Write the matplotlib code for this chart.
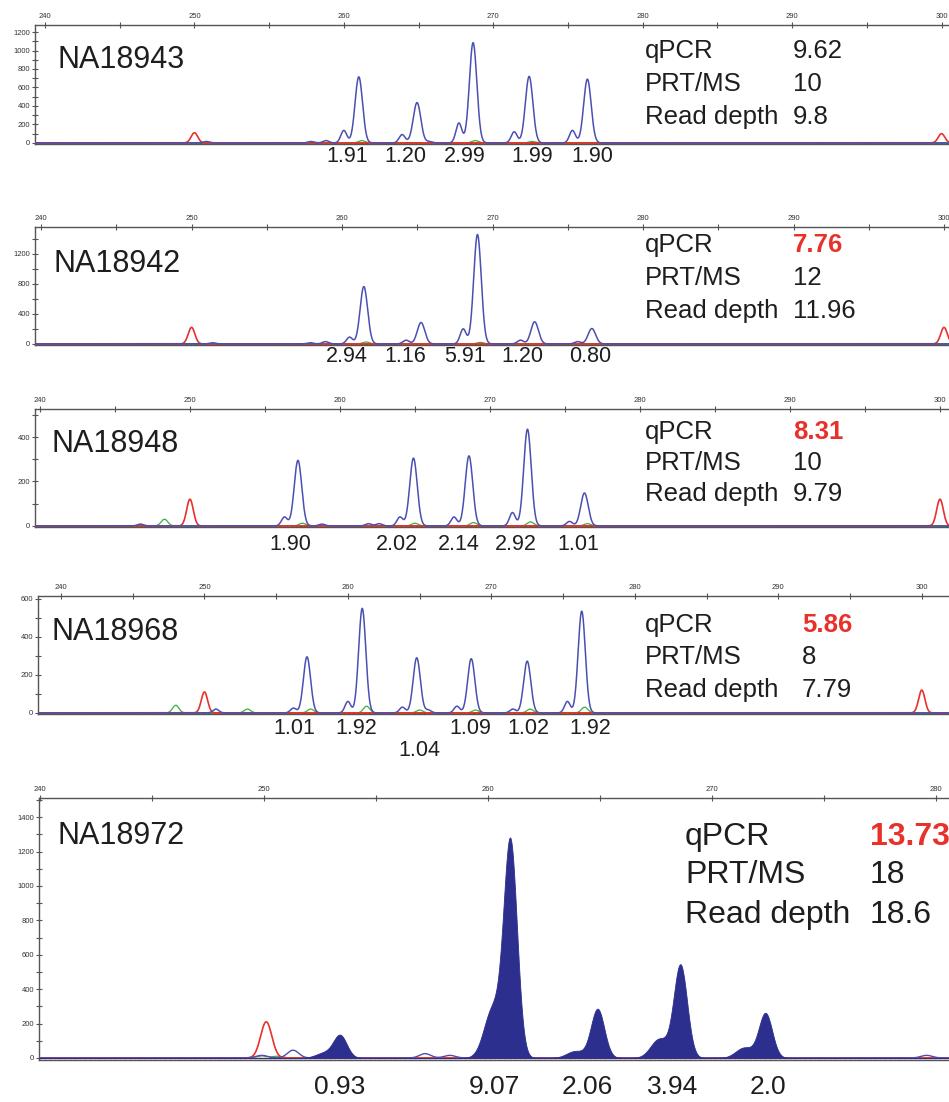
import matplotlib.pyplot as plt
import numpy as np
from matplotlib.ticker import MultipleLocator, FuncFormatter

plt.rcParams["font.family"] = ["Liberation Sans", "DejaVu Sans"]

# ---- data ----
samples = ["NA18943", "NA18942", "NA18948", "NA18968", "NA18972"]
qpcr = ["9.62", "7.76", "8.31", "5.86", "13.73"]
qpcr_flag = [False, True, True, True, True]
prtms = ["10", "12", "10", "8", "18"]
read_depth = ["9.8", "11.96", "9.79", "7.79", "18.6"]

# main (selected) peaks: size in bp, height in RFU, ratio label
pk_pos_1 = [261.0, 264.9, 268.65, 272.4, 276.3]
pk_h_1 = [715, 435, 1085, 720, 690]
pk_lab_1 = ["1.91", "1.20", "2.99", "1.99", "1.90"]
sh_pos_1 = [260.0, 263.9, 267.7, 271.4, 275.3]
sh_h_1 = [135, 90, 215, 120, 135]
minor_pos_1 = [250.8, 257.8, 258.8, 264.5, 265.7]
minor_h_1 = [15, 15, 25, 10, 15]
red_pos_1 = [250.0, 300.0]
red_h_1 = [110, 100]
grn_pos_1 = [261.2, 268.8, 272.6]
grn_h_1 = [25, 25, 15]

pk_pos_2 = [261.45, 265.25, 269.0, 272.8, 276.6]
pk_h_2 = [765, 285, 1460, 295, 205]
pk_lab_2 = ["2.94", "1.16", "5.91", "1.20", "0.80"]
sh_pos_2 = [260.5, 264.3, 268.05, 271.85, 275.65]
sh_h_2 = [90, 30, 200, 50, 30]
minor_pos_2 = [251.4, 257.9, 258.9, 264.2]
minor_h_2 = [15, 15, 30, 20]
red_pos_2 = [250.0, 300.0]
red_h_2 = [220, 220]
grn_pos_2 = [261.6, 269.2]
grn_h_2 = [25, 20]

pk_pos_3 = [257.2, 264.9, 268.6, 272.5, 276.3]
pk_h_3 = [295, 305, 315, 435, 148]
pk_lab_3 = ["1.90", "2.02", "2.14", "2.92", "1.01"]
sh_pos_3 = [256.3, 264.0, 267.6, 271.5, 275.3]
sh_h_3 = [40, 40, 40, 60, 20]
minor_pos_3 = [246.7, 258.8, 261.9, 262.6]
minor_h_3 = [8, 8, 10, 10]
red_pos_3 = [250.0, 300.0]
red_h_3 = [120, 120]
grn_pos_3 = [248.3, 257.5, 265.0, 268.9, 272.7, 276.5]
grn_h_3 = [30, 12, 12, 15, 18, 10]

pk_pos_4 = [257.15, 261.0, 264.8, 268.6, 272.5, 276.3]
pk_h_4 = [295, 550, 290, 285, 272, 535]
pk_lab_4 = ["1.01", "1.92", "1.04", "1.09", "1.02", "1.92"]
sh_pos_4 = [256.2, 260.0, 263.8, 267.6, 271.5, 275.3]
sh_h_4 = [25, 60, 30, 35, 20, 60]
minor_pos_4 = [250.8, 265.6]
minor_h_4 = [20, 15]
red_pos_4 = [250.0, 300.0]
red_h_4 = [110, 120]
grn_pos_4 = [248.0, 253.0, 257.4, 261.3, 265.0, 268.9, 272.7, 276.5]
grn_h_4 = [40, 20, 20, 35, 15, 15, 20, 30]

pk_pos_5 = [253.4, 261.0, 264.9, 268.6, 272.4]
pk_h_5 = [130, 1250, 285, 540, 260]
pk_lab_5 = ["0.93", "9.07", "2.06", "3.94", "2.0"]
sh_pos_5 = [252.7, 260.2, 263.9, 267.65, 271.45]
sh_h_5 = [30, 280, 40, 110, 60]
minor_pos_5 = [249.9, 251.3, 257.2, 258.3, 279.6]
minor_h_5 = [15, 45, 25, 15, 15]
red_pos_5 = [250.1]
red_h_5 = [210]
grn_pos_5 = [249.9, 250.6]
grn_h_5 = [12, 10]

# ---- layout (pixel frames of each panel: left, top, right, bottom) ----
W, H = 949, 1102
frames = [(35, 25, 949, 144), (35, 227, 949, 345), (35, 409, 949, 527),
          (38, 596, 949, 714), (39, 798, 949, 1060)]
xlims = [(239.33, 300.5), (239.6, 300.33), (239.67, 300.6), (238.4, 301.9), (239.95, 280.6)]
ylims = [(-12, 1276), (-15, 1560), (-5, 526), (-6, 615), (-12, 1511)]
ysteps = [(200, 100), (400, 200), (200, 100), (200, 100), (200, 100)]
name_xy = [(57, 60), (53, 264), (52, 444), (52, 632), (58, 836)]
info_x = [(645, 793), (645, 793), (645, 793), (645, 802), (685, 870)]
info_y = [(51, 84, 117), (245, 278, 311), (432, 463, 494), (625, 657, 690), (837, 875, 915)]
lab_x_1 = [260.2, 264.1, 268.1, 272.6, 276.6]
lab_x_2 = [260.35, 264.2, 268.2, 272.0, 276.5]
lab_x_3 = [256.7, 263.8, 267.9, 271.7, 275.9]
lab_x_4 = [256.25, 260.6, 264.95, 268.5, 272.6, 276.9]
lab_x_5 = [253.4, 260.3, 264.45, 268.25, 272.5]
lab_y = [157, 357, 544, 729, 1087]

BLUE = "#4a4fb2"
NAVY = "#2c2f8e"
RED = "#e8312b"
GREEN = "#3dae3d"
TXT = "#1e1e1e"
AX = "#555555"


def peaks(x, pos, h, s):
    y = np.zeros_like(x)
    for c, a in zip(pos, h):
        y += a * np.exp(-0.5 * ((x - c) / s) ** 2)
    return y


fig = plt.figure(figsize=(W / 100, H / 100), dpi=100)

panels = [
    (pk_pos_1, pk_h_1, pk_lab_1, sh_pos_1, sh_h_1, minor_pos_1, minor_h_1, red_pos_1, red_h_1, grn_pos_1, grn_h_1, lab_x_1),
    (pk_pos_2, pk_h_2, pk_lab_2, sh_pos_2, sh_h_2, minor_pos_2, minor_h_2, red_pos_2, red_h_2, grn_pos_2, grn_h_2, lab_x_2),
    (pk_pos_3, pk_h_3, pk_lab_3, sh_pos_3, sh_h_3, minor_pos_3, minor_h_3, red_pos_3, red_h_3, grn_pos_3, grn_h_3, lab_x_3),
    (pk_pos_4, pk_h_4, pk_lab_4, sh_pos_4, sh_h_4, minor_pos_4, minor_h_4, red_pos_4, red_h_4, grn_pos_4, grn_h_4, lab_x_4),
    (pk_pos_5, pk_h_5, pk_lab_5, sh_pos_5, sh_h_5, minor_pos_5, minor_h_5, red_pos_5, red_h_5, grn_pos_5, grn_h_5, lab_x_5),
]

for i, (pp, ph, plab, sp, sh, mp, mh, rp, rh, gp, gh, lx) in enumerate(panels):
    l, t, r, b = frames[i]
    ax = fig.add_axes([l / W, 1 - b / H, (r - l) / W, (b - t) / H])
    x = np.linspace(xlims[i][0], xlims[i][1], 4000)
    big = i == 4

    # baseline noise lines
    ax.axhline(0, color=RED, lw=1.0, zorder=1)
    ax.axhline(0, color="#222222", lw=0.9, dashes=(1.5, 2.5), zorder=2)
    if not big:
        ax.axhline(0, color=GREEN, lw=0.6, dashes=(1, 4), zorder=2)

    ax.plot(x, peaks(x, gp, gh, 0.22), color=GREEN, lw=0.9, zorder=3)
    ax.plot(x, peaks(x, rp, rh, 0.25 if big else 0.22), color=RED, lw=1.2, zorder=4)
    if big:
        yb = peaks(x, pp, ph, 0.3) + peaks(x, sp, sh, 0.38)
        ax.fill_between(x, 0, yb, color=NAVY, lw=0.6, zorder=5)
        ax.plot(x, peaks(x, mp, mh, 0.25), color=BLUE, lw=1.0, zorder=4)
    else:
        yb = peaks(x, pp, ph, 0.25) + peaks(x, sp, sh, 0.2) + peaks(x, mp, mh, 0.2)
        ax.plot(x, yb, color=BLUE, lw=1.1, zorder=5)

    ax.set_xlim(*xlims[i])
    ax.set_ylim(*ylims[i])
    ax.spines["right"].set_visible(False)
    for s in ["top", "left", "bottom"]:
        ax.spines[s].set_color(AX)
        ax.spines[s].set_linewidth(1.0)

    ax.xaxis.set_ticks_position("top")
    ax.xaxis.set_major_locator(MultipleLocator(5))
    ax.xaxis.set_major_formatter(FuncFormatter(lambda v, p: f"{v:.0f}" if round(v) % 10 == 0 else ""))
    ax.yaxis.set_major_locator(MultipleLocator(ysteps[i][0]))
    ax.yaxis.set_minor_locator(MultipleLocator(ysteps[i][1]))
    ax.tick_params(axis="x", direction="inout", length=5, width=0.8, colors=AX,
                   labelsize=5.5, labelcolor="#333333", pad=1)
    ax.tick_params(axis="y", which="both", direction="inout", length=5, width=0.8, colors=AX,
                   labelsize=5.5, labelcolor="#333333", pad=1)

    # sample name
    nx, ny = name_xy[i]
    fig.text(nx / W, 1 - ny / H, samples[i], fontsize=22, color=TXT, va="center", ha="left")

    # info block
    fs = 23 if big else 18.5
    kx, vx = info_x[i]
    y1, y2, y3 = info_y[i]
    fig.text(kx / W, 1 - y1 / H, "qPCR", fontsize=fs, color=TXT, va="center")
    fig.text(kx / W, 1 - y2 / H, "PRT/MS", fontsize=fs, color=TXT, va="center")
    fig.text(kx / W, 1 - y3 / H, "Read depth", fontsize=fs, color=TXT, va="center")
    if qpcr_flag[i]:
        fig.text(vx / W, 1 - y1 / H, qpcr[i], fontsize=fs, color=RED, fontweight="bold", va="center")
    else:
        fig.text(vx / W, 1 - y1 / H, qpcr[i], fontsize=fs, color=TXT, va="center")
    fig.text(vx / W, 1 - y2 / H, prtms[i], fontsize=fs, color=TXT, va="center")
    fig.text(vx / W, 1 - y3 / H, read_depth[i], fontsize=fs, color=TXT, va="center")

    # ratio labels under the peaks
    trans = ax.get_xaxis_transform()
    for j, (xx, s) in enumerate(zip(lx, plab)):
        ly = lab_y[i]
        if i == 3 and j == 2:
            ly = 751
        yfrac = (b - ly) / (b - t)
        ax.text(xx, yfrac, s, transform=trans, ha="center", va="center",
                fontsize=19 if big else 15.5, color=TXT, clip_on=False)

fig.savefig("out.png", dpi=100)
